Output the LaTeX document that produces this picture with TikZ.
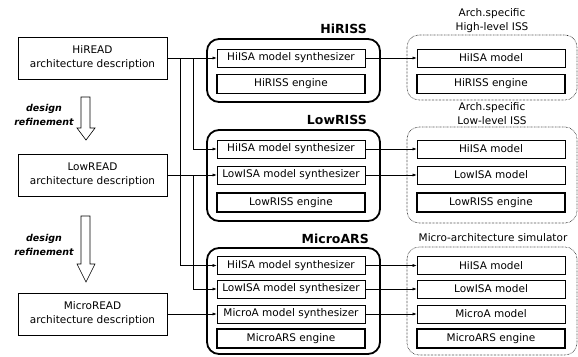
\documentclass[tikz,border=0pt]{standalone}
\usepackage{fontspec}
\setmainfont{DejaVu Sans}
\usetikzlibrary{arrows.meta}

\begin{document}
\begin{tikzpicture}[x=1pt,y=-1pt]
\useasboundingbox (0,0) rectangle (578,356);
\tikzstyle{every node}=[font=\fontsize{10.5}{14}\selectfont, inner sep=1pt]
\tikzstyle{readbox}=[draw, line width=0.6pt, minimum width=149, minimum height=42, align=center]
\tikzstyle{synbox}=[draw, line width=0.6pt, minimum width=148, minimum height=18]
\tikzstyle{engbox}=[draw, line width=1.4pt, minimum width=148, minimum height=19]
\tikzstyle{grp}=[draw, line width=1.8pt, rounded corners=12pt]
\tikzstyle{issgrp}=[draw, line width=0.6pt, dash pattern=on 0.5pt off 0.9pt, rounded corners=12pt]
\tikzstyle{conn}=[-{Latex[length=4pt,width=3pt]}, line width=0.5pt]
\tikzstyle{grptitle}=[font=\fontsize{12.5}{14}\selectfont\bfseries, anchor=base east, inner sep=0pt]
\tikzstyle{refine}=[font=\fontsize{9.5}{14}\selectfont\bfseries\itshape, align=center]
\tikzstyle{bigarrow}=[draw, line width=0.6pt, fill=white]

% design descriptions
\node[readbox] (hiread) at (92.5,58) {HiREAD\\architecture description};
\node[readbox] (lowread) at (92.5,175) {LowREAD\\architecture description};
\node[readbox] (microread) at (92.5,314) {MicroREAD\\architecture description};

% refinement arrows
\draw[bigarrow] (81,97) -- (90,97) -- (90,128) -- (95,128) -- (86,140)
  -- (77,128) -- (81,128) -- cycle;
\draw[bigarrow] (81,216) -- (90,216) -- (90,264) -- (95,264) -- (86,282)
  -- (77,264) -- (81,264) -- cycle;
\node[refine] (ref1) at (44,115) {design\\refinement};
\node[refine] (ref2) at (44,245) {design\\refinement};

% synthesizers
\draw[grp] (207,39) rectangle (380,102);
\draw[grp] (207,130) rectangle (380,221);
\draw[grp] (207,248) rectangle (380,354);
\node[grptitle] (hiriss) at (367,33) {HiRISS};
\node[grptitle] (lowriss) at (367,124) {LowRISS};
\node[grptitle] (microars) at (369,243) {MicroARS};

\node[synbox] (hr-hisa) at (291,58) {HiISA model synthesizer};
\node[engbox] (hr-eng) at (291,84) {HiRISS engine};
\node[synbox] (lr-hisa) at (291,149) {HiISA model synthesizer};
\node[synbox] (lr-lisa) at (291,175) {LowISA model synthesizer};
\node[engbox] (lr-eng) at (291,202.5) {LowRISS engine};
\node[synbox] (ma-hisa) at (291,265.5) {HiISA model synthesizer};
\node[synbox] (ma-lisa) at (291,289) {LowISA model synthesizer};
\node[synbox] (ma-masa) at (291,314) {MicroA model synthesizer};
\node[engbox] (ma-eng) at (291,338.5) {MicroARS engine};

% generated simulators
\draw[issgrp] (407,35) rectangle (577,100);
\draw[issgrp] (407,127) rectangle (577,223);
\draw[issgrp] (407,247) rectangle (577,355);
\node[align=center] (t1) at (492,21) {Arch.specific\\High-level ISS};
\node[align=center] (t2) at (492,114) {Arch.specific\\Low-level ISS};
\node (t3) at (493,238) {Micro-architecture simulator};

\node[synbox] (hs-hisa) at (491,58) {HiISA model};
\node[engbox] (hs-eng) at (491,84) {HiRISS engine};
\node[synbox] (ls-hisa) at (491,149) {HiISA model};
\node[synbox] (ls-lisa) at (491,175) {LowISA model};
\node[engbox] (ls-eng) at (491,202.5) {LowRISS engine};
\node[synbox] (ms-hisa) at (491,265.5) {HiISA model};
\node[synbox] (ms-lisa) at (491,289) {LowISA model};
\node[synbox] (ms-masa) at (491,314) {MicroA model};
\node[engbox] (ms-eng) at (491,338.5) {MicroARS engine};

% connections
\draw[conn] (hiread) -- (hr-hisa);
\draw[conn] (hiread.east) -- ++(26,0) |- (lr-hisa.west);
\draw[conn] (hiread.east) -- ++(13,0) |- (ma-hisa.west);
\draw[conn] (lowread) -- (lr-lisa);
\draw[conn] (lowread.east) -- ++(26,0) |- (ma-lisa.west);
\draw[conn] (microread) -- (ma-masa);
\foreach \a/\b in {hr-hisa/hs-hisa,lr-hisa/ls-hisa,lr-lisa/ls-lisa,
                   ma-hisa/ms-hisa,ma-lisa/ms-lisa,ma-masa/ms-masa}{
  \draw[conn] (\a) -- (\b);
}
\end{tikzpicture}
\end{document}
